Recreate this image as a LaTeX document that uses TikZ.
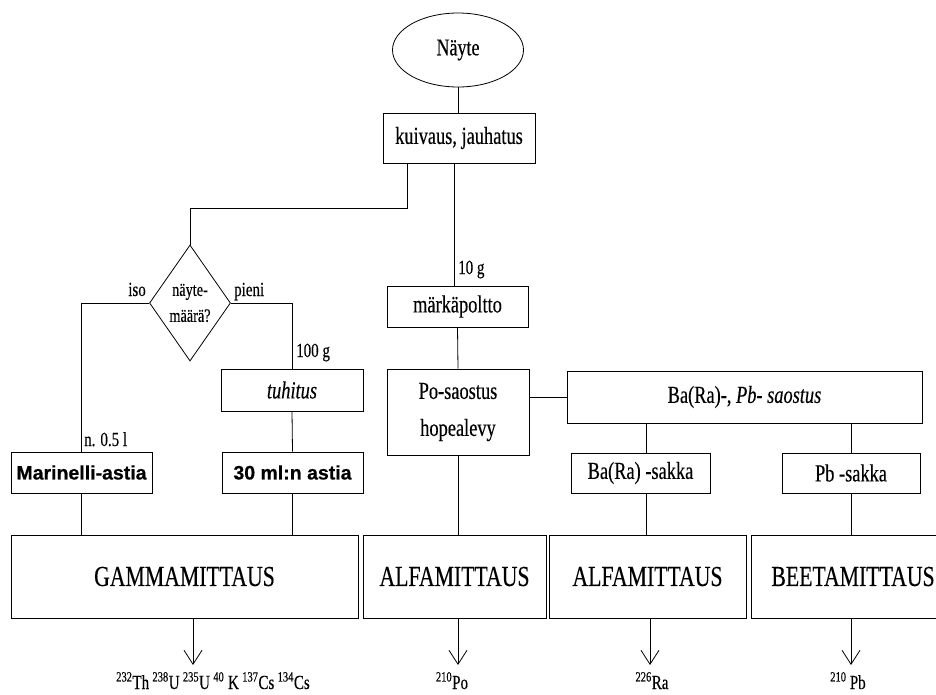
\documentclass[tikz,border=0pt]{standalone}
\usepackage{fontspec}
\setmainfont{Liberation Serif}
\newfontfamily\cond[FakeStretch=0.75,FakeBold=0.3]{Liberation Serif}
\newfontfamily\bsans[FakeBold=0.6]{Liberation Sans}
\usetikzlibrary{shapes.geometric,arrows.meta}
\begin{document}
\begin{tikzpicture}[x=1pt,y=-1pt,
  ln/.style={line width=0.8pt},
  box/.style={draw,ln,inner sep=0pt,align=center,font=\cond\fontsize{24.5}{28}\selectfont},
  bigbox/.style={box,minimum height=83pt,font=\cond\fontsize{29}{30}\selectfont},
  boldbox/.style={box,font=\bsans\bfseries\fontsize{19.5}{22}\selectfont},
  lab/.style={inner sep=0pt,font=\cond\fontsize{20}{22}\selectfont},
  iso/.style={inner sep=0pt,anchor=base,font=\cond\fontsize{20}{22}\selectfont},
  arr/.style={ln,-{Straight Barb[length=14pt,width=18pt,line width=0.8pt]}}]
\useasboundingbox (0,0) rectangle (936,694);
\clip (0,0) rectangle (936,694);

% nodes
\node[draw,ln,ellipse,minimum width=131pt,minimum height=74pt,inner sep=0pt,
      font=\cond\fontsize{24}{26}\selectfont] (nayte) at (458,50) {Näyte};
\node[box,minimum width=152pt,minimum height=50pt] (kuiv) at (459,138) {kuivaus, jauhatus};
\node[draw,ln,diamond,aspect=0.7,inner sep=0pt,minimum width=81pt,minimum height=116pt,
      align=center,font=\cond\fontsize{19}{26}\selectfont] (diam) at (190,303) {näyte-\\määrä?};
\node[box,minimum width=142pt,minimum height=42pt] (tuh) at (292,390) {\itshape tuhitus};
\node[boldbox,minimum width=141pt,minimum height=41pt] (mari) at (81.5,472.5) {Marinelli-astia};
\node[boldbox,minimum width=141pt,minimum height=41pt] (ml) at (292.5,472.5) {30 ml:n astia};
\node[box,minimum width=141pt,minimum height=41pt] (mark) at (457.5,306.5) {märkäpoltto};
\node[box,minimum width=142pt,minimum height=86pt,font=\cond\fontsize{24.5}{37}\selectfont] (po) at (458,412) {Po-saostus\\hopealevy};
\node[box,minimum width=355pt,minimum height=52pt] (ba) at (744.5,397) {Ba(Ra)-, \itshape Pb- saostus};
\node[box,minimum width=139pt,minimum height=40pt] (bas) at (640.5,473) {Ba(Ra) -sakka};
\node[box,minimum width=138pt,minimum height=40pt] (pbs) at (851,473) {Pb -sakka};
\node[bigbox,minimum width=347pt] (gam) at (184.5,576.5) {GAMMAMITTAUS};
\node[bigbox,minimum width=183pt] (alf1) at (454.5,576.5) {ALFAMITTAUS};
\node[bigbox,minimum width=197pt] (alf2) at (647.5,576.5) {ALFAMITTAUS};
\node[bigbox,minimum width=204pt] (beet) at (853,576.5) {BEETAMITTAUS};

% labels
\node[lab,anchor=base east] (liso) at (146,296) {iso};
\node[lab,anchor=base west] (lpieni) at (234,296) {pieni};
\node[lab,anchor=base west] (l100) at (296,357) {100 g};
\node[lab,anchor=base west] (l10) at (458,274) {10 g};
\node[lab,anchor=base west] (ln05) at (84,446) {n. 0.5 l};

% connectors
\draw[ln] (nayte.south) -- (nayte.south |- kuiv.north);
\draw[ln] ([xshift=-52pt]kuiv.south) -- ++(0,45) -| (diam.north);
\draw[ln] ([xshift=-3pt]mark.north |- kuiv.south) -- ([xshift=-3pt]mark.north);
\draw[ln] (diam.west) -| (mari.north);
\draw[ln] (diam.east) -| (tuh.north);
\draw[ln] (tuh.south) -- (ml.north);
\draw[ln] (mari.south) -- (mari.south |- gam.north);
\draw[ln] (ml.south) -- (ml.south |- gam.north);
\draw[ln] (mark.south) -- (po.north);
\draw[ln] (po.south) -- (po.south |- alf1.north);
\draw[ln] (po.east |- ba.west) -- (ba.west);
\draw[ln] ([xshift=5.5pt]bas.north |- ba.south) -- ([xshift=5.5pt]bas.north);
\draw[ln] (pbs.north |- ba.south) -- (pbs.north);
\draw[ln] ([xshift=5.5pt]bas.south) -- ([xshift=5.5pt]bas.south |- alf2.north);
\draw[ln] (pbs.south) -- (pbs.south |- beet.north);

% result arrows
\coordinate (ag) at (193,665);
\coordinate (a1) at (458,665);
\coordinate (a2) at (650,665);
\coordinate (a3) at (851,665);
\draw[arr] (gam.south -| ag) -- (ag);
\draw[arr] (alf1.south -| a1) -- (a1);
\draw[arr] (alf2.south -| a2) -- (a2);
\draw[arr] (beet.south -| a3) -- (a3);

\node[iso] (rg) at (213,689) {\textsuperscript{232}Th\,\textsuperscript{238}U\,\textsuperscript{235}U\,\textsuperscript{40} K\,\textsuperscript{137}Cs\,\textsuperscript{134}Cs};
\node[iso] (r1) at (452,689) {\textsuperscript{210}Po};
\node[iso] (r2) at (652,689) {\textsuperscript{226}Ra};
\node[iso] (r3) at (848,689) {\textsuperscript{210}\,Pb};
\end{tikzpicture}
\end{document}
